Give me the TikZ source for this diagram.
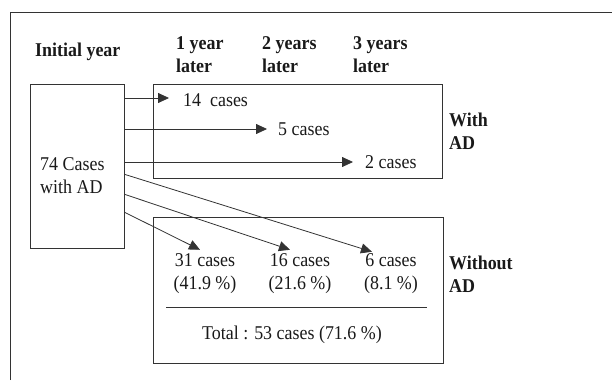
\documentclass[tikz,border=0pt]{standalone}
\usepackage{fontspec}
\setmainfont{Liberation Serif}[FakeStretch=0.92]
\usetikzlibrary{arrows.meta, positioning}

\begin{document}
\begin{tikzpicture}[
    x=1pt, y=-1pt,
    frame/.style={
        draw=black!80,
        line width=0.8pt,
        inner sep=0pt
    },
    txt/.style={
        font=\fontsize{19.5}{23}\selectfont,
        text=black!90,
        inner sep=0pt,
        align=left,
        anchor=west
    },
    head/.style={
        txt,
        font=\fontsize{19.5}{23}\selectfont\bfseries
    },
    count/.style={
        font=\fontsize{19.5}{23}\selectfont,
        text=black!90,
        inner sep=0pt,
        align=center
    },
    flow/.style={
        draw=black!80,
        -{Triangle[length=11pt,width=10pt]},
        line width=0.8pt
    }
]

\useasboundingbox (0,0) rectangle (612,380);

% outer frame (cut off on the right and at the bottom)
\coordinate (framebl) at (10,380);
\coordinate (frametl) at (10,12);
\coordinate (frametr) at (612,12);
\draw[black!80, line width=0.8pt] (framebl) -- (frametl) -- (frametr);

% column heads
\node[head] (initial) at (35,52) {Initial year};
\node[head] (year1) at (176,55) {1 year\\later};
\node[head] (year2) at (262,55) {2 years\\later};
\node[head] (year3) at (353,55) {3 years\\later};

% boxes
\node[frame, anchor=north west, minimum width=94pt, minimum height=164pt]
    (init) at (30,84) {};
\node[frame, anchor=north west, minimum width=289pt, minimum height=94pt]
    (withbox) at (153,84) {};
\node[frame, anchor=north west, minimum width=290pt, minimum height=146pt]
    (withoutbox) at (153,217) {};

\node[txt] (cases74) at (40,176) {74 Cases\\with AD};

% still with AD
\node[txt] (c14) at (183,100) {14~~cases};
\node[txt] (c5) at (278,129) {5 cases};
\node[txt] (c2) at (365,162) {2 cases};
\node[head] (withad) at (449,131) {With\\AD};

% without AD
\node[count] (c31) at (205,274) {31 cases\\(41.9 \%)};
\node[count] (c16) at (300,274) {16 cases\\(21.6 \%)};
\node[count] (c6) at (391,274) {6 cases\\(8.1 \%)};
\node[count] (total) at (292,335) {Total : 53 cases (71.6 \%)};
\node[head] (withoutad) at (449,274) {Without\\AD};

\coordinate (ruleleft) at (166,307);
\coordinate (ruleright) at (427,307);
\draw[black!80, line width=0.8pt] (ruleleft) -- (ruleright);

% arrows
\draw[flow] (init.east |- 0,98) -- ([xshift=-14pt]c14.west |- 0,98);
\draw[flow] (init.east |- c5) -- ([xshift=-11pt]c5.west);
\draw[flow] (init.east |- c2) -- ([xshift=-12pt]c2.west);
\draw[flow] ([yshift=-8pt]init.east) -- ([xshift=-19pt,yshift=2pt]c6.north);
\draw[flow] ([yshift=-28pt]init.east) -- ([xshift=-10pt,yshift=4pt]c16.north);
\draw[flow] ([yshift=-46pt]init.east) -- ([xshift=-5pt,yshift=4pt]c31.north);

\end{tikzpicture}
\end{document}
